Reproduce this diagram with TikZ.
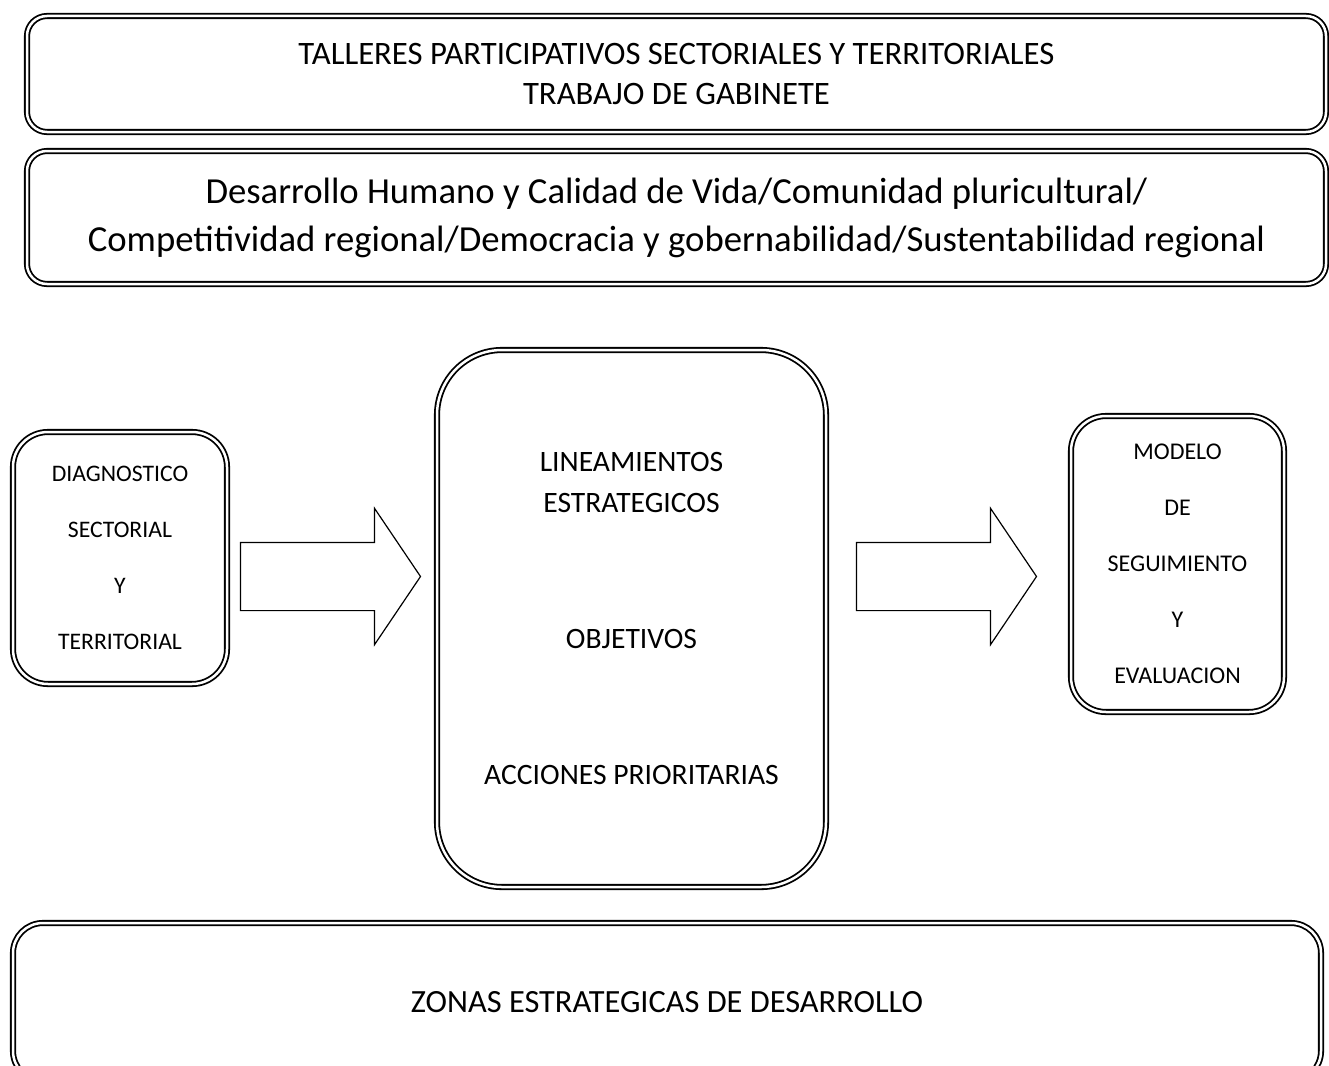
\documentclass[tikz,border=0pt]{standalone}
\usepackage{fontspec}
\setmainfont{Carlito}
\usetikzlibrary{shapes.arrows}

\begin{document}
\begin{tikzpicture}[x=1pt,y=-1pt,
    frame_box/.style={
           rectangle,
           draw,
           double,
           double distance=2.5pt,
           line width=1.8pt,
           inner sep=0pt,
           align=center},
    block_arrow/.style={
           single arrow,
           draw,
           line width=1.2pt,
           inner xsep=0pt,
           inner ysep=33.5pt,
           minimum height=180pt,
           single arrow head extend=34pt,
           single arrow tip angle=112}]

  \clip (0,0) rectangle (1329,1065);

  \path (676.5,74) node(talleres) [frame_box,rounded corners=20pt,
      minimum width=1299pt,minimum height=116pt,
      font=\fontsize{32.7}{40}\selectfont]
      {TALLERES PARTICIPATIVOS SECTORIALES Y TERRITORIALES\\TRABAJO DE GABINETE}
  (676.5,217.5) node(ejes) [frame_box,rounded corners=20pt,
      minimum width=1299pt,minimum height=133pt,
      font=\fontsize{36.7}{48}\selectfont]
      {Desarrollo Humano y Calidad de Vida/Comunidad pluricultural/\\
       Competitividad regional/Democracia y gobernabilidad/Sustentabilidad regional}
  (120,558) node(diag) [frame_box,rounded corners=35pt,
      minimum width=214pt,minimum height=252pt,
      font=\fontsize{23.7}{56}\selectfont]
      {DIAGNOSTICO\\SECTORIAL\\Y\\TERRITORIAL}
  (631.5,618.5) node(lineam) [frame_box,rounded corners=65pt,
      minimum width=389pt,minimum height=537pt,
      font=\fontsize{29.6}{41}\selectfont]
      {LINEAMIENTOS\\ESTRATEGICOS\\[95pt]OBJETIVOS\\[95pt]ACCIONES PRIORITARIAS}
  (1177.5,564) node(modelo) [frame_box,rounded corners=35pt,
      minimum width=213pt,minimum height=296pt,
      font=\fontsize{24}{56}\selectfont]
      {MODELO\\DE\\SEGUIMIENTO\\Y\\EVALUACION}
  (667,1002) node(zonas) [frame_box,rounded corners=30pt,
      minimum width=1308pt,minimum height=158pt,
      font=\fontsize{32.4}{36}\selectfont]
      {ZONAS ESTRATEGICAS DE DESARROLLO};

  % flechas entre bloques
  \path (319,576.5) node(arr_diag) [block_arrow] {}
  (935,576.5) node(arr_lineam) [block_arrow] {};

\end{tikzpicture}
\end{document}
